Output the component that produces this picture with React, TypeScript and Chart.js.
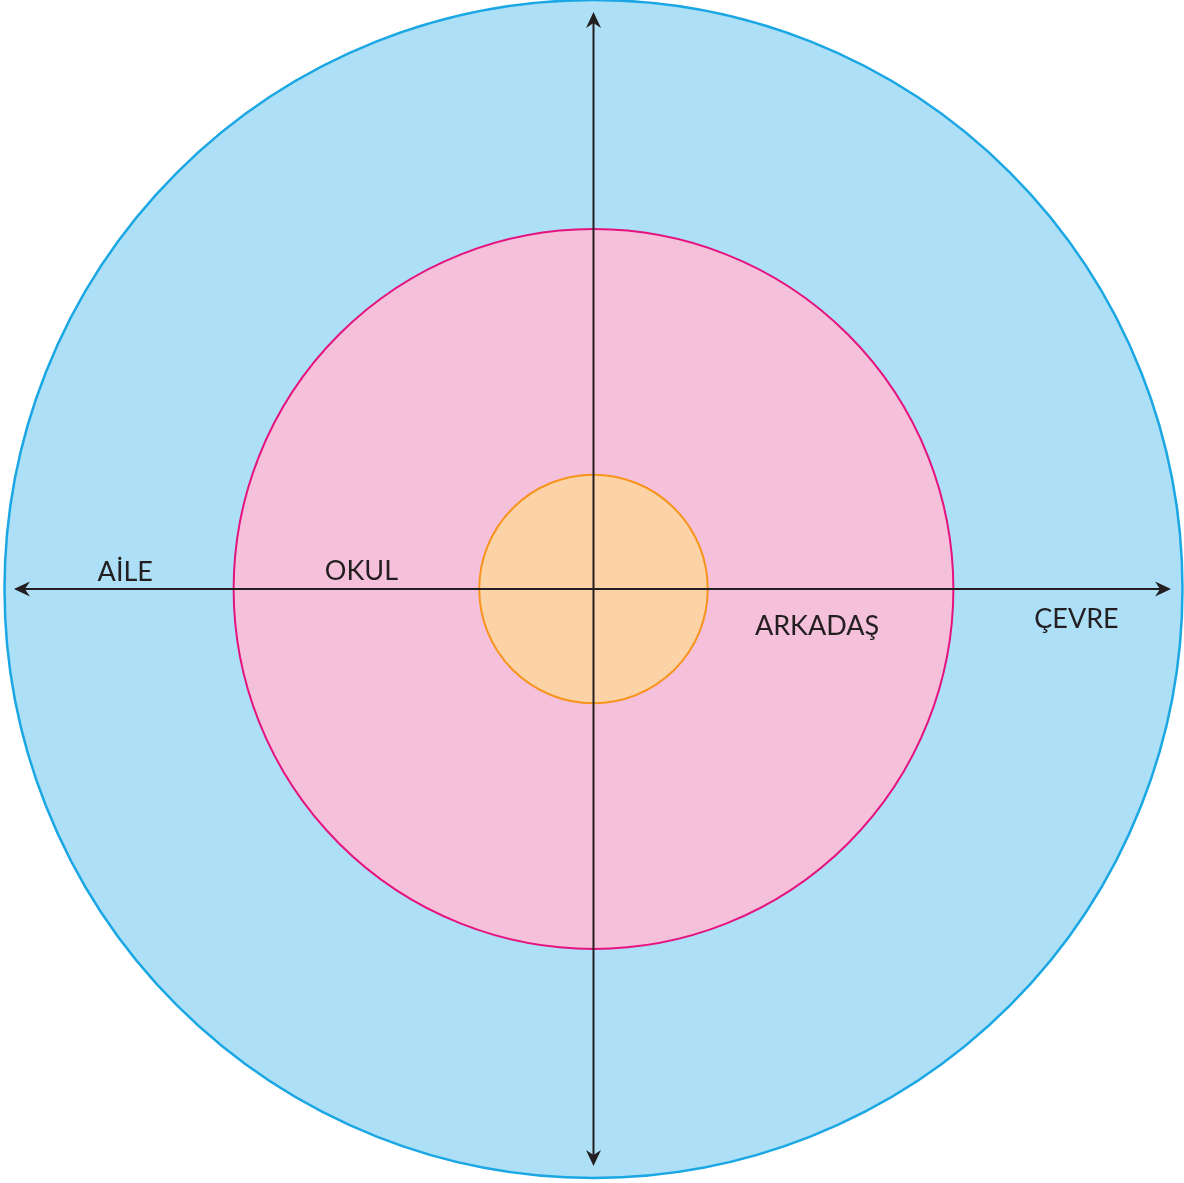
import React, { useEffect, useRef } from "react";
import { Chart, registerables } from "chart.js";

Chart.register(...registerables);

// Concentric ring radii (units: outer ring = 100)
const ringNames = ["ÇEVRE ring", "ARKADAŞ / OKUL ring", "inner ring"];
const ringRadii = [100, 61.1, 19.4];
const ringFills = ["#ADDFF7", "#F5C0DA", "#FBD3A6"];
const ringStrokes = ["#1AA7E4", "#E5137F", "#F7941D"];

// Axis extents (arrow tip positions)
const axisLeft = -98.4;
const axisRight = 98.05;
const axisTop = 97.96;
const axisBottom = -97.96;

// Labels
const labelTexts = ["AİLE", "OKUL", "ARKADAŞ", "ÇEVRE"];
const labelX = [-79.5, -39.4, 37.95, 82.0];
const labelY = [1.36, 1.5, -7.81, -6.62];

const PX_PER_UNIT = 5.89;
const W = 1184;
const H = 1183;
const CX = 593.5;
const CY = 589;

const ringsPlugin = {
  id: "rings",
  beforeDatasetsDraw(chart: any) {
    const { ctx, scales } = chart;
    const xs = scales.x;
    const ys = scales.y;
    const cx = xs.getPixelForValue(0);
    const cy = ys.getPixelForValue(0);
    ctx.save();
    ringRadii.forEach((r, i) => {
      const rp = Math.abs(xs.getPixelForValue(r) - cx);
      ctx.beginPath();
      ctx.arc(cx, cy, rp, 0, Math.PI * 2);
      ctx.fillStyle = ringFills[i];
      ctx.fill();
      ctx.lineWidth = i === 0 ? 2.5 : 2;
      ctx.strokeStyle = ringStrokes[i];
      ctx.stroke();
    });
    ctx.restore();
  },
  afterDatasetsDraw(chart: any) {
    const { ctx, scales } = chart;
    const xs = scales.x;
    const ys = scales.y;
    const cx = xs.getPixelForValue(0);
    const cy = ys.getPixelForValue(0);
    const arrow = (tx: number, ty: number, dx: number, dy: number) => {
      const len = 16;
      const half = 7.5;
      const notch = 11;
      const px = -dy;
      const py = dx;
      ctx.beginPath();
      ctx.moveTo(tx, ty);
      ctx.lineTo(tx - dx * len + px * half, ty - dy * len + py * half);
      ctx.lineTo(tx - dx * notch, ty - dy * notch);
      ctx.lineTo(tx - dx * len - px * half, ty - dy * len - py * half);
      ctx.closePath();
      ctx.fillStyle = "#231F20";
      ctx.fill();
    };
    ctx.save();
    arrow(xs.getPixelForValue(axisLeft), cy, -1, 0);
    arrow(xs.getPixelForValue(axisRight), cy, 1, 0);
    arrow(cx, ys.getPixelForValue(axisTop), 0, -1);
    arrow(cx, ys.getPixelForValue(axisBottom), 0, 1);

    ctx.fillStyle = "#231F20";
    ctx.font = "27px Lato, 'DejaVu Sans', sans-serif";
    ctx.textAlign = "center";
    ctx.textBaseline = "alphabetic";
    labelTexts.forEach((t, i) => {
      ctx.fillText(t, xs.getPixelForValue(labelX[i]), ys.getPixelForValue(labelY[i]));
    });
    ctx.restore();
  },
};

export default function App() {
  const ref = useRef<HTMLCanvasElement>(null);
  useEffect(() => {
    document.body.style.margin = "0";
    const canvas = ref.current!;
    const chart = new Chart(canvas, {
      type: "scatter",
      data: {
        datasets: [
          {
            label: "horizontal axis",
            data: [
              { x: axisLeft + 1.5, y: 0 },
              { x: axisRight - 1.5, y: 0 },
            ],
            showLine: true,
            borderColor: "#231F20",
            borderWidth: 2,
            pointRadius: 0,
          },
          {
            label: "vertical axis",
            data: [
              { x: 0, y: axisTop - 1.5 },
              { x: 0, y: axisBottom + 1.5 },
            ],
            showLine: true,
            borderColor: "#231F20",
            borderWidth: 2,
            pointRadius: 0,
          },
        ],
      },
      options: {
        animation: false,
        responsive: false,
        maintainAspectRatio: false,
        devicePixelRatio: 1,
        layout: { padding: 0 },
        scales: {
          x: {
            type: "linear",
            display: false,
            min: -CX / PX_PER_UNIT,
            max: (W - CX) / PX_PER_UNIT,
          },
          y: {
            type: "linear",
            display: false,
            min: -(H - CY) / PX_PER_UNIT,
            max: CY / PX_PER_UNIT,
          },
        },
        plugins: {
          legend: { display: false },
          tooltip: { enabled: false },
        },
      },
      plugins: [ringsPlugin],
    });
    return () => chart.destroy();
  }, []);
  return (
    <div style={{ width: W, height: H, background: "#fff" }}>
      <canvas ref={ref} width={W} height={H} style={{ display: "block" }} aria-label={ringNames.join(", ")} />
    </div>
  );
}
